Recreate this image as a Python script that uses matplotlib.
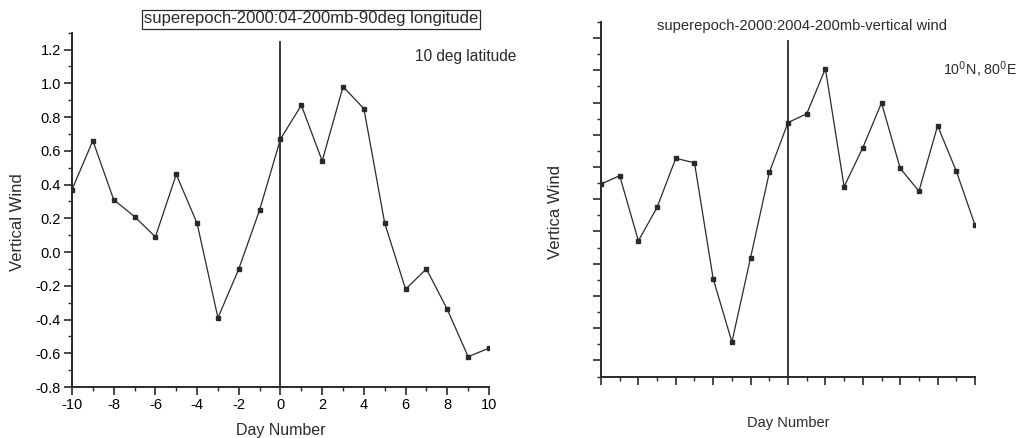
import matplotlib
matplotlib.use("Agg")
import matplotlib.pyplot as plt
from matplotlib.ticker import MultipleLocator, NullFormatter

plt.rcParams['font.family'] = ['Liberation Sans', 'DejaVu Sans']
plt.rcParams['axes.unicode_minus'] = False

days = list(range(-10, 11))
left_wind = [0.37, 0.66, 0.31, 0.21, 0.09, 0.46, 0.17, -0.39, -0.10, 0.25,
             0.67, 0.87, 0.54, 0.98, 0.85, 0.17, -0.22, -0.10, -0.34, -0.62, -0.57]
right_wind = [5.47, 5.73, 3.71, 4.75, 6.27, 6.13, 2.53, 0.57, 3.19, 5.83,
              7.38, 7.65, 9.05, 5.39, 6.60, 7.99, 5.96, 5.25, 7.28, 5.87, 4.20]
left_yticks = [-0.8, -0.6, -0.4, -0.2, 0.0, 0.2, 0.4, 0.6, 0.8, 1.0, 1.2]
x_ticks = [-10, -8, -6, -4, -2, 0, 2, 4, 6, 8, 10]

fig = plt.figure(figsize=(10.2, 4.38), dpi=100)
lc = '#2a2a2a'

def style(ax):
    for s in ['top', 'right']:
        ax.spines[s].set_visible(False)
    for s in ['left', 'bottom']:
        ax.spines[s].set_linewidth(1.4)
        ax.spines[s].set_color(lc)
    ax.tick_params(which='major', direction='out', length=6, width=1.2, color=lc,
                   labelsize=10.5, pad=2)
    ax.tick_params(which='minor', direction='out', length=3, width=1.0, color=lc)

# Left chart
ax1 = fig.add_axes([0.0706, 0.1164, 0.4088, 0.809])
ax1.plot(days, left_wind, '-s', color=lc, lw=0.9, ms=3, mfc=lc, mec=lc)
ax1.axvline(0, ymax=0.975, color=lc, lw=1.3)
ax1.set_xlim(-10, 10)
ax1.set_ylim(-0.8, 1.3)
ax1.set_xticks(x_ticks)
ax1.set_yticks(left_yticks)
ax1.set_yticklabels([f"{v:.1f}" for v in left_yticks])
ax1.xaxis.set_minor_locator(MultipleLocator(1))
ax1.yaxis.set_minor_locator(MultipleLocator(0.1))
style(ax1)
ax1.set_xlabel('Day Number', fontsize=11.5, color=lc)
ax1.xaxis.set_label_coords(0.5, -0.102)
ax1.set_ylabel('Vertical Wind', fontsize=12, color=lc)
ax1.yaxis.set_label_coords(-0.113, 0.466)
fig.text(311/1020, 1 - 19/438, 'superepoch-2000:04-200mb-90deg longitude',
         ha='center', va='center', fontsize=12, color=lc,
         bbox=dict(boxstyle='square,pad=0.12', fc='white', ec=lc, lw=0.9))
fig.text(415/1020, 1 - 57/438, '10 deg latitude', ha='left', va='center',
         fontsize=11.2, color=lc)

# Right chart
ax2 = fig.add_axes([0.5892, 0.1404, 0.3667, 0.8094])
ax2.plot(days, right_wind, '-s', color=lc, lw=0.9, ms=3, mfc=lc, mec=lc)
ax2.axvline(0, ymax=0.947, color=lc, lw=1.3)
ax2.set_xlim(-10, 10)
ax2.set_ylim(-0.5, 10.5)
ax2.set_xticks(x_ticks)
ax2.xaxis.set_minor_locator(MultipleLocator(1))
ax2.yaxis.set_major_locator(MultipleLocator(1))
ax2.yaxis.set_minor_locator(MultipleLocator(0.5))
style(ax2)
ax2.xaxis.set_major_formatter(NullFormatter())
ax2.yaxis.set_major_formatter(NullFormatter())
ax2.set_xlabel('Day Number', fontsize=10.5, color=lc)
ax2.xaxis.set_label_coords(0.5, -0.111)
ax2.set_ylabel('Vertica Wind', fontsize=12, color=lc)
ax2.yaxis.set_label_coords(-0.102, 0.464)
fig.text(802/1020, 1 - 26/438, 'superepoch-2000:2004-200mb-vertical wind',
         ha='center', va='center', fontsize=10.6, color=lc)
fig.text(943/1020, 1 - 70/438, r'10$^0$N, 80$^0$E', ha='left', va='center',
         fontsize=10.3, color=lc)

fig.savefig('out.png', dpi=100)
